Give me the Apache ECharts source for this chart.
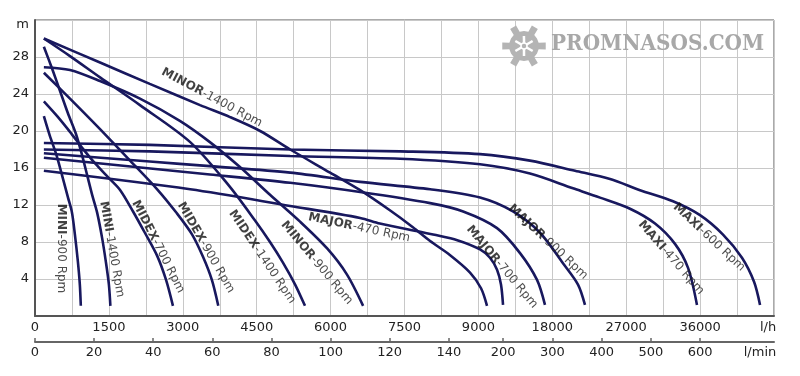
<!DOCTYPE html>
<html>
<head>
<meta charset="utf-8">
<script src="https://cdn.jsdelivr.net/npm/echarts@6/dist/echarts.min.js"></script>
<style>
  html, body { margin: 0; padding: 0; background: #fff; }
  #chart { width: 800px; height: 376px; }
</style>
</head>
<body>
<div id="chart"></div>
<script>
// pump curves: [flow l/h, head m]
const mini900 = [[180, 21.6], [300, 19.5], [430, 17.5], [570, 14.8], [670, 12.8], [750, 11.2], [810, 8.8], [870, 5.9], [910, 3.4], [930, 1.1]]
const mini1400 = [[180, 29.1], [350, 26.7], [510, 24.3], [670, 21.9], [830, 19.7], [950, 17.5], [1060, 15.2], [1160, 13.1], [1260, 11.2], [1360, 8.5], [1440, 5.8], [1500, 3.4], [1530, 1.1]]
const midex700 = [[180, 23.2], [450, 21.6], [710, 19.9], [970, 18.1], [1220, 16.5], [1520, 14.8], [1730, 13.6], [1990, 11.3], [2230, 9.0], [2480, 6.5], [2660, 3.9], [2800, 1.1]]
const midex900 = [[180, 26.3], [710, 23.5], [1320, 20.2], [1930, 16.8], [2480, 13.7], [2880, 11.1], [3190, 8.8], [3410, 6.4], [3590, 3.9], [3720, 1.1]]
const midex1400 = [[180, 30.0], [710, 28.1], [1320, 25.8], [2130, 22.8], [3150, 18.8], [3920, 14.2], [4470, 10.3], [4770, 8.0], [5030, 5.8], [5280, 3.4], [5480, 1.1]]
const minor900 = [[180, 26.9], [710, 26.6], [1320, 25.4], [2130, 23.5], [2940, 21.1], [3550, 18.8], [4160, 16.1], [4770, 13.1], [5380, 10.2], [5930, 7.3], [6330, 4.5], [6660, 1.1]]
const minor1400 = [[180, 30.0], [1320, 27.4], [2330, 25.1], [3350, 22.8], [3960, 21.5], [4570, 20.0], [5180, 18.0], [5990, 15.5], [6600, 13.6], [7210, 11.4], [7670, 9.6], [8020, 8.1], [8420, 6.6], [8830, 4.7], [9320, 3.0], [10050, 1.1]]
const major470 = [[180, 15.7], [3150, 13.7], [5180, 11.9], [6600, 10.6], [7000, 10.0], [7820, 9.1], [8080, 8.8], [8570, 8.2], [9200, 7.2], [10410, 6.3], [11270, 5.0], [11750, 3.4], [12000, 1.2]]
const major700 = [[180, 17.1], [3550, 15.3], [5180, 14.4], [6600, 13.4], [8020, 12.2], [8690, 11.3], [11270, 9.5], [14070, 6.8], [16140, 3.9], [17110, 1.2]]
const major900 = [[180, 17.6], [2330, 16.7], [3550, 16.2], [5180, 15.5], [6600, 14.5], [8020, 13.7], [9200, 12.8], [13210, 11.3], [16500, 9.0], [19300, 5.7], [21130, 3.4], [21980, 1.2]]
const maxi470 = [[180, 18.0], [2330, 17.8], [5180, 17.3], [7410, 17.0], [9200, 16.4], [15280, 15.4], [20520, 13.8], [23810, 12.8], [27460, 11.6], [30510, 10.0], [32940, 7.8], [34530, 5.2], [35620, 1.2]]
const maxi600 = [[180, 18.7], [2330, 18.5], [5180, 18.0], [7410, 17.8], [9200, 17.5], [15280, 16.8], [20770, 15.7], [25030, 14.8], [28680, 13.6], [32700, 12.4], [35990, 10.9], [38790, 8.8], [41100, 6.3], [42570, 3.7], [43300, 1.2]]

const curves = [mini900, mini1400, midex700, midex900, midex1400, minor900, minor1400, major470, major700, major900, maxi470, maxi600]

// tick labels
const flowTicks = [0, 1500, 3000, 4500, 6000, 7500, 9000, 18000, 27000, 36000]
const lminTicks = [0, 20, 40, 60, 80, 100, 120, 140, 200, 300, 400, 500, 600]

// curve names, anchored at [flow, head]
const curveLabels = [
  { model: 'MINI', rpm: '900', at: [530, 7.3], rotate: -90 },
  { model: 'MINI', rpm: '1400', at: [1560, 7.2], rotate: -80 },
  { model: 'MIDEX', rpm: '700', at: [2500, 7.5], rotate: -63 },
  { model: 'MIDEX', rpm: '900', at: [3470, 7.4], rotate: -60 },
  { model: 'MIDEX', rpm: '1400', at: [4610, 6.4], rotate: -56 },
  { model: 'MINOR', rpm: '900', at: [5720, 5.75], rotate: -50 },
  { model: 'MINOR', rpm: '1400', at: [3590, 23.6], rotate: -28 },
  { model: 'MAJOR', rpm: '470', at: [6580, 9.55], rotate: -12 },
  { model: 'MAJOR', rpm: '700', at: [11870, 5.3], rotate: -50 },
  { model: 'MAJOR', rpm: '900', at: [17480, 8.0], rotate: -43 },
  { model: 'MAXI', rpm: '470', at: [32460, 6.3], rotate: -49 },
  { model: 'MAXI', rpm: '600', at: [37090, 8.5], rotate: -43 }
]

// x axis is split: 750 l/h per grid step up to 9000, then 4500 l/h per step
const toUnit = q => q <= 9000 ? q / 750 : 12 + (q - 9000) / 4500
const flowUnits = flowTicks.map(toUnit)
const lminUnits = lminTicks.map(v => toUnit(v * 60))
const near = (a, b) => Math.abs(a - b) < 1e-6

const lineColor = '#18185e'
const font = 'DejaVu Sans'

// gear for the watermark
function gearPoints(cx, cy) {
  const pts = []
  const d = Math.PI / 180
  for (let i = 0; i < 6; i++) {
    const a = i * Math.PI / 3
    ;[[-30, 15], [-13, 15], [-9, 22], [9, 22], [13, 15]].forEach(([off, r]) => {
      pts.push([cx + r * Math.cos(a + off * d), cy + r * Math.sin(a + off * d)])
    })
  }
  return pts
}

const chart = echarts.init(document.getElementById('chart'))

const lineSeries = curves.map(c => ({
  type: 'line',
  data: c.map(([q, h]) => [toUnit(q), h]),
  smooth: 0.3,
  symbol: 'none',
  lineStyle: { color: lineColor, width: 2.6 },
  silent: true,
  z: 3
}))

const labelSeries = {
  type: 'scatter',
  symbolSize: 1,
  itemStyle: { color: 'transparent' },
  silent: true,
  z: 4,
  data: curveLabels.map(l => ({
    value: [toUnit(l.at[0]), l.at[1]],
    model: l.model,
    rpm: l.rpm,
    label: { rotate: l.rotate }
  })),
  label: {
    show: true,
    position: 'inside',
    align: 'center',
    verticalAlign: 'middle',
    formatter: p => '{b|' + p.data.model + '}{n|-' + p.data.rpm + ' Rpm}',
    rich: {
      b: { fontFamily: font, fontSize: 12, fontWeight: 'bold', color: '#111' },
      n: { fontFamily: font, fontSize: 12, color: '#222' }
    }
  }
}

const option = {
  animation: false,
  backgroundColor: '#fff',
  grid: {
    left: 35, right: 26, top: 20, bottom: 60,
    show: true, borderColor: '#555', borderWidth: 1
  },
  xAxis: [
    {
      type: 'value', min: 0, max: 20, interval: 1,
      axisLine: { lineStyle: { color: '#555', width: 2 } },
      axisTick: { show: false },
      splitLine: { lineStyle: { color: '#c8c8c8', width: 1 } },
      axisLabel: {
        customValues: flowUnits.concat([20]),
        margin: 5,
        fontFamily: font, fontSize: 13, color: '#222',
        formatter: v => {
          if (near(v, 20)) return '{u|l/h}'
          const i = flowUnits.findIndex(u => near(u, v))
          return i >= 0 ? String(flowTicks[i]) : ''
        },
        rich: { u: { fontFamily: font, fontSize: 13, color: '#222', padding: [0, 12, 0, 0] } }
      }
    },
    {
      type: 'value', min: 0, max: 20, position: 'bottom', offset: 26,
      axisLine: { onZero: false, lineStyle: { color: '#666', width: 2 } },
      axisTick: { show: true, inside: true, length: 4, customValues: lminUnits, lineStyle: { color: '#666', width: 1.5 } },
      splitLine: { show: false },
      axisLabel: {
        customValues: lminUnits.concat([20]),
        margin: 4,
        fontFamily: font, fontSize: 13, color: '#222',
        formatter: v => {
          if (near(v, 20)) return '{u|l/min}'
          const i = lminUnits.findIndex(u => near(u, v))
          return i >= 0 ? String(lminTicks[i]) : ''
        },
        rich: { u: { fontFamily: font, fontSize: 13, color: '#222', padding: [0, 28, 0, 0] } }
      }
    }
  ],
  yAxis: {
    type: 'value', min: 0, max: 32, interval: 4,
    axisLine: { show: true, lineStyle: { color: '#555', width: 2 } },
    axisTick: { show: false },
    splitLine: { lineStyle: { color: '#c8c8c8', width: 1 } },
    axisLabel: {
      margin: 6,
      fontFamily: font, fontSize: 13, color: '#222',
      formatter: v => v === 0 ? '' : (v === 32 ? '{m|m}' : String(v)),
      rich: { m: { fontFamily: font, fontSize: 13, color: '#222', padding: [10, 0, 0, 0] } }
    }
  },
  graphic: [
    {
      type: 'polygon', z: 1, silent: true,
      shape: { points: gearPoints(524, 46) },
      style: { fill: '#b4b4b4' }
    },
    ...[0, 1, 2].map(i => ({
      type: 'line', z: 2, silent: true,
      shape: {
        x1: 524 + 10 * Math.cos(i * Math.PI / 3 + 0.52), y1: 46 + 10 * Math.sin(i * Math.PI / 3 + 0.52),
        x2: 524 - 10 * Math.cos(i * Math.PI / 3 + 0.52), y2: 46 - 10 * Math.sin(i * Math.PI / 3 + 0.52)
      },
      style: { stroke: '#fff', lineWidth: 2.5 }
    })),
    {
      type: 'circle', z: 2, silent: true,
      shape: { cx: 524, cy: 46, r: 3 },
      style: { fill: '#b4b4b4', stroke: '#fff', lineWidth: 1.5 }
    },
    {
      type: 'text', z: 1, silent: true,
      x: 551, y: 33, scaleX: 0.87,
      style: {
        text: 'PROMNASOS.COM',
        font: 'bold 23px "DejaVu Serif"',
        fill: '#a8a8a8'
      }
    }
  ],
  series: lineSeries.concat([labelSeries])
}

chart.setOption(option)
</script>
</body>
</html>
